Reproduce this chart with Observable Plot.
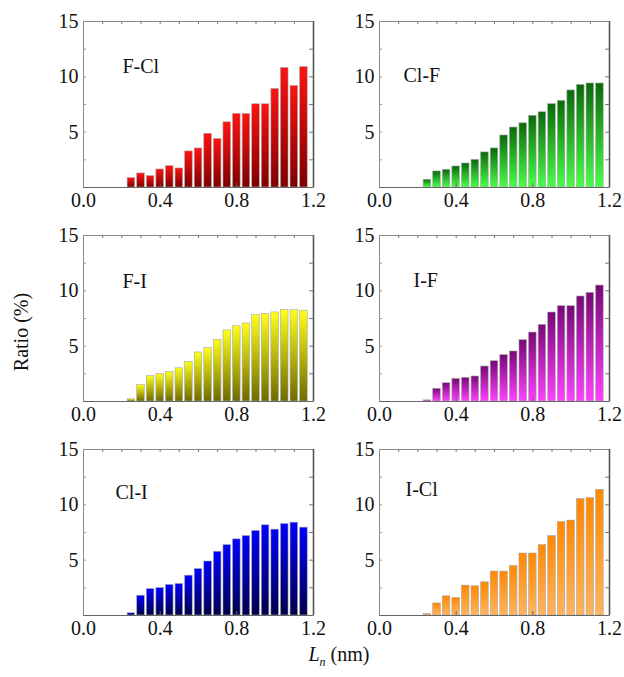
<!DOCTYPE html>
<html>
<head>
<meta charset="utf-8">
<script src="https://cdn.jsdelivr.net/npm/d3@7"></script>
<script src="https://cdn.jsdelivr.net/npm/@observablehq/plot@0.6"></script>
<style>
  body { margin: 0; background: #fff; }
  #wrap { position: relative; width: 624px; height: 677px; font-family: "Liberation Serif", "DejaVu Serif", serif; }
  #wrap svg { position: absolute; left: 0; top: 0; }
  #wrap svg text { font-family: "Liberation Serif", "DejaVu Serif", serif; }
  .ylab { position: absolute; left: 21px; top: 332px; transform: translate(-50%, -50%) rotate(-90deg); font-size: 20px; white-space: nowrap; color: #111; }
  .xlab { position: absolute; left: 339px; top: 656px; transform: translate(-50%, -50%); font-size: 20px; white-space: nowrap; color: #111; }
  .xlab sub { font-size: 12px; font-style: italic; }
</style>
</head>
<body>
<div id="wrap">
  <div class="ylab">Ratio (%)</div>
  <div class="xlab"><i>L</i><sub>n</sub> (nm)</div>
</div>
<script>
// ---- data ----
const binCenters = [0.25, 0.30, 0.35, 0.40, 0.45, 0.50, 0.55, 0.60, 0.65, 0.70, 0.75, 0.80, 0.85, 0.90, 0.95, 1.00, 1.05, 1.10, 1.15];
const panelNames = ["F-Cl", "Cl-F", "F-I", "I-F", "Cl-I", "I-Cl"];
const ratioFCl = [0.85, 1.27, 1.03, 1.63, 1.93, 1.72, 3.26, 3.53, 4.86, 4.38, 5.89, 6.65, 6.65, 7.52, 7.52, 8.91, 10.8, 9.18, 10.88];
const ratioClF = [0.70, 1.45, 1.60, 1.90, 2.17, 2.50, 3.17, 3.53, 4.70, 5.42, 5.80, 6.48, 6.80, 7.53, 7.83, 8.77, 9.27, 9.40, 9.40];
const ratioFI  = [0.20, 1.50, 2.30, 2.47, 2.68, 3.00, 3.58, 4.43, 4.82, 5.57, 6.42, 6.80, 7.05, 7.80, 7.90, 8.05, 8.25, 8.25, 8.20];
const ratioIF  = [0.10, 1.15, 1.65, 2.05, 2.14, 2.26, 3.16, 3.64, 4.19, 4.52, 5.54, 6.23, 6.93, 8.04, 8.61, 8.61, 9.49, 9.82, 10.48];
const ratioClI = [0.20, 1.79, 2.39, 2.48, 2.76, 2.85, 3.60, 4.20, 4.88, 5.76, 6.36, 6.88, 7.18, 7.64, 8.15, 7.76, 8.27, 8.39, 7.94];
const ratioICl = [0.12, 1.09, 1.73, 1.58, 2.70, 2.64, 3.00, 3.97, 3.97, 4.48, 5.60, 5.60, 6.36, 7.18, 8.45, 8.58, 10.52, 10.60, 11.36];
const xTickLabels = [0.0, 0.4, 0.8, 1.2];
const yTickLabels = [5, 10, 15];
const xMinorTicks = [0.1, 0.2, 0.3, 0.4, 0.5, 0.6, 0.7, 0.8, 0.9, 1.0, 1.1];
const yMinorTicks = [2.5, 5, 7.5, 10, 12.5];

// ---- styles ----
const panelSeries = [ratioFCl, ratioClF, ratioFI, ratioIF, ratioClI, ratioICl];
const gradientStops = [
  ["#ff1212", "#7e0000"],
  ["#0a6a0a", "#48ff48"],
  ["#ffff18", "#6e6a00"],
  ["#780878", "#ff40ff"],
  ["#0000ff", "#00004a"],
  ["#ff8800", "#ffb45e"]
];
const labelOffsets = [[39, 37], [24, 46], [39, 38], [34, 37], [32, 35], [26, 32]];
const binHalf = 0.025;
const serif = "'Liberation Serif', 'DejaVu Serif', serif";

const rows = panelNames.flatMap((name, k) => panelSeries[k].map((v, i) => ({
  panel: name, col: k % 2, row: Math.floor(k / 2),
  x1: binCenters[i] - binHalf, x2: binCenters[i] + binHalf, v
})));
const panels = panelNames.map((name, k) => ({panel: name, col: k % 2, row: Math.floor(k / 2)}));

const marks = [];
panelNames.forEach((name, k) => {
  marks.push(Plot.rectY(rows.filter(d => d.panel === name), {
    x1: "x1", x2: "x2", y: "v", fx: "col", fy: "row",
    fill: `url(#grad${k})`, insetLeft: 1, insetRight: 1,
    stroke: "#a8a8a8", strokeWidth: 0.6
  }));
  marks.push(Plot.text([panels[k]], {
    fx: "col", fy: "row", text: "panel", frameAnchor: "top-left",
    textAnchor: "start", dx: labelOffsets[k][0], dy: labelOffsets[k][1],
    fontSize: 20, fill: "#111", fontFamily: serif
  }));
});

const chart = Plot.plot({
  width: 624,
  height: 677,
  marginLeft: 83,
  marginRight: 15,
  marginTop: 21,
  marginBottom: 62,
  style: {fontFamily: serif, fontSize: "20px", color: "#111", background: "#fff"},
  fx: {domain: [0, 1], paddingInner: 0.223, paddingOuter: 0, axis: null},
  fy: {domain: [0, 1, 2], paddingInner: 0.2243, paddingOuter: 0, axis: null},
  x: {domain: [0, 1.2]},
  y: {domain: [0, 15]},
  marks: [
    ...marks,
    Plot.frame({stroke: "#8a8a8a", strokeWidth: 1}),
    Plot.ruleX([1.2], {stroke: "#555", strokeWidth: 1.6}),
    Plot.ruleY([0], {stroke: "#666", strokeWidth: 1}),
    Plot.tickX(xMinorTicks, {x: d => d, insetBottom: 163, stroke: "#777", strokeWidth: 1}),
    Plot.tickX(xTickLabels.slice(1, 3), {x: d => d, insetTop: 162, stroke: "#666", strokeWidth: 1}),
    Plot.tickY(yMinorTicks, {y: d => d, insetLeft: 226, stroke: "#777", strokeWidth: 1}),
    Plot.tickY(yMinorTicks, {y: d => d, insetRight: 227, stroke: "#999", strokeWidth: 1}),
    Plot.axisX({ticks: xTickLabels, tickFormat: d3.format(".1f"), tickSize: 0, tickPadding: 5, label: null, facetAnchor: null, fontSize: 20, fontFamily: serif}),
    Plot.axisY({ticks: yTickLabels, tickSize: 0, tickPadding: 5, label: null, facetAnchor: null, fontSize: 20, fontFamily: serif})
  ]
});

// gradient definitions (one per panel, per-bar vertical shading)
const NS = "http://www.w3.org/2000/svg";
const defs = document.createElementNS(NS, "defs");
gradientStops.forEach(([top, bottom], k) => {
  const g = document.createElementNS(NS, "linearGradient");
  g.setAttribute("id", `grad${k}`);
  g.setAttribute("x1", "0"); g.setAttribute("y1", "0");
  g.setAttribute("x2", "0"); g.setAttribute("y2", "1");
  [[0, top], [1, bottom]].forEach(([o, c]) => {
    const s = document.createElementNS(NS, "stop");
    s.setAttribute("offset", o);
    s.setAttribute("stop-color", c);
    g.appendChild(s);
  });
  defs.appendChild(g);
});
chart.insertBefore(defs, chart.firstChild);

document.getElementById("wrap").prepend(chart);
</script>
</body>
</html>
